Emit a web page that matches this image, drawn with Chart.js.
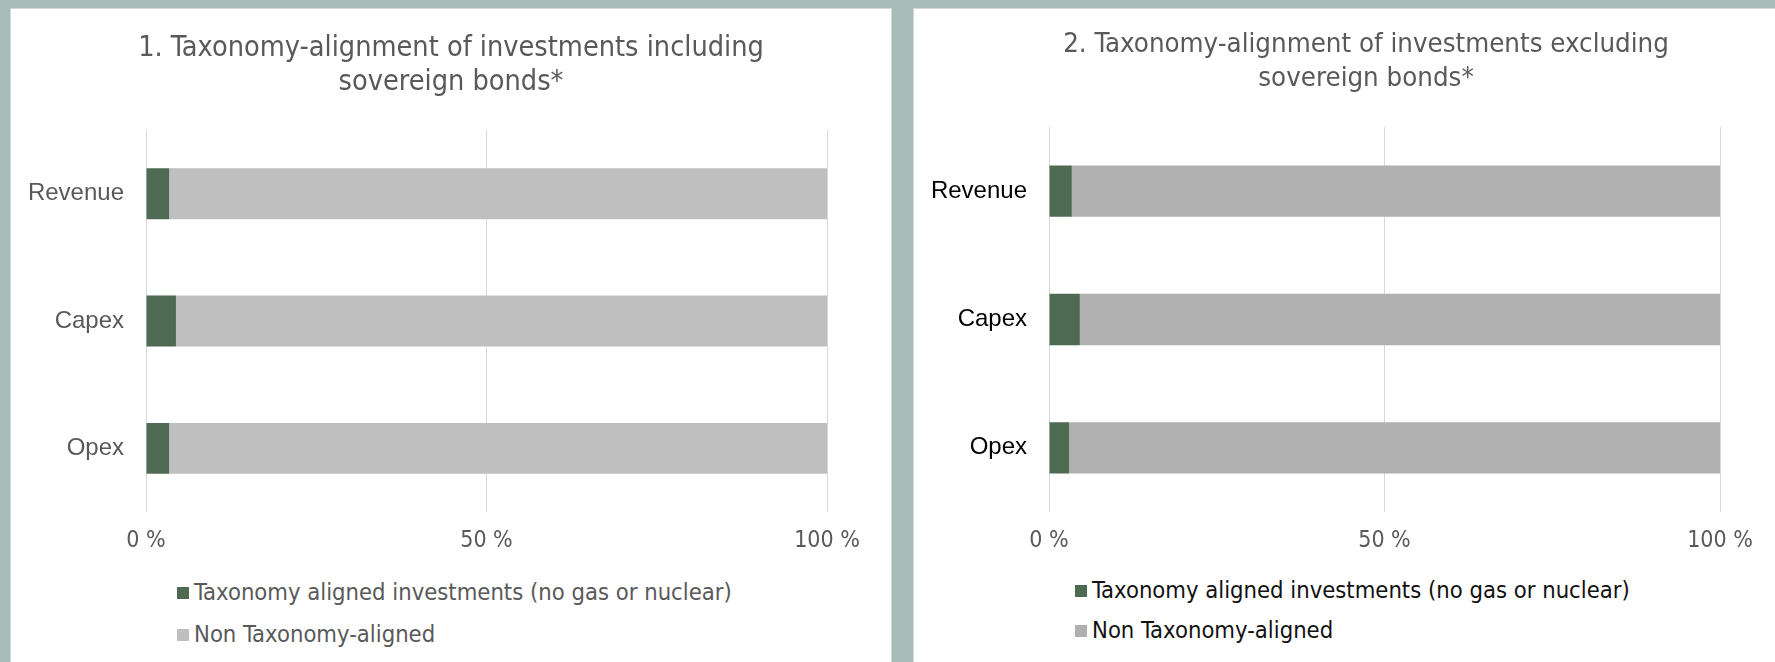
<!DOCTYPE html>
<html lang="en">
<head>
  <meta charset="UTF-8">
  <title>Taxonomy-alignment of investments</title>
  <script src="https://cdn.jsdelivr.net/npm/chart.js"></script>
  <style>
    html, body { margin: 0; padding: 0; }
    body {
      width: 1775px; height: 662px; overflow: hidden;
      background: #a7bcb9; position: relative;
    }
    .panel {
      position: absolute; top: 8px; height: 700px;
      background: #fff; border: 1px solid #d6d6d6; box-sizing: border-box;
    }
    #panel1 { left: 10px; width: 882px; }
    #panel2 { left: 913px; width: 906px; }
    .chart-box { position: absolute; left: 0; top: 0; width: 100%; height: 560px; }
    .legend { position: absolute; font-family: "Liberation Sans Narrow", "Arial Narrow", "DejaVu Sans Condensed", sans-serif; font-size: 23.6px; }
    .legend div { position: absolute; white-space: nowrap; line-height: 24px; }
    .legend span.box { display: inline-block; width: 12px; height: 12px; margin-right: 5px; vertical-align: 1px; }
  </style>
</head>
<body>
  <div class="panel" id="panel1">
    <div class="chart-box"><canvas id="chart1"></canvas></div>
    <div class="legend" id="legend1" style="left:166px; top:571px; color:#595959;"></div>
  </div>
  <div class="panel" id="panel2">
    <div class="chart-box"><canvas id="chart2"></canvas></div>
    <div class="legend" id="legend2" style="left:161px; top:569px; color:#111;"></div>
  </div>

  <script>
    // data
    const categories = ['Revenue', 'Capex', 'Opex'];
    const alignedInclSov = [3.4, 4.4, 3.4];
    const nonAlignedInclSov = [96.6, 95.6, 96.6];
    const alignedExclSov = [3.4, 4.6, 3.0];
    const nonAlignedExclSov = [96.6, 95.4, 97.0];
    const xTicks = [0, 50, 100];

    const seriesNames = ['Taxonomy aligned investments (no gas or nuclear)', 'Non Taxonomy-aligned'];
    const green = '#4f6a52';

    const narrow = '"Liberation Sans Narrow", "Arial Narrow", "DejaVu Sans Condensed", sans-serif';
    const regular = '"Liberation Sans", Arial, sans-serif';

    function makeChart(id, title, aligned, nonAligned, grey, cfg) {
      const ctx = document.getElementById(id).getContext('2d');
      return new Chart(ctx, {
        type: 'bar',
        data: {
          labels: categories,
          datasets: [
            { label: seriesNames[0], data: aligned, backgroundColor: green, barPercentage: 0.4, categoryPercentage: 1 },
            { label: seriesNames[1], data: nonAligned, backgroundColor: grey, barPercentage: 0.4, categoryPercentage: 1 }
          ]
        },
        options: {
          indexAxis: 'y',
          responsive: true,
          maintainAspectRatio: false,
          animation: false,
          layout: { padding: 0 },
          plugins: {
            legend: { display: false },
            tooltip: { enabled: false },
            title: {
              display: true,
              text: title,
              color: '#595959',
              font: { family: narrow, size: cfg.titleSize, weight: 'normal', lineHeight: cfg.titleLine },
              padding: { top: cfg.titleTop, bottom: cfg.titleBottom }
            }
          },
          scales: {
            x: {
              stacked: true,
              min: 0,
              max: 100,
              afterBuildTicks: (scale) => { scale.ticks = xTicks.map(v => ({ value: v })); },
              afterFit: (scale) => { scale.height = 57; },
              grid: { color: '#d9d9d9', lineWidth: 1, drawTicks: false },
              border: { display: false },
              ticks: {
                padding: 15,
                color: '#595959',
                font: { family: narrow, size: 23 },
                callback: (v) => v + ' %'
              }
            },
            y: {
              stacked: true,
              afterFit: (scale) => { scale.width = 135; },
              grid: { display: false, drawTicks: false },
              border: { display: false },
              ticks: {
                padding: 22,
                color: cfg.yColor,
                font: { family: regular, size: 24 }
              }
            },
            // empty right-hand axis: only reserves the white margin so the title stays centred on the panel
            yGap: {
              type: 'category',
              position: 'right',
              afterFit: (scale) => { scale.width = cfg.gapRight; },
              grid: { display: false, drawTicks: false },
              border: { display: false },
              ticks: { display: false }
            }
          }
        }
      });
    }

    function buildLegend(el, chart, rowGap) {
      chart.data.datasets.forEach((ds, i) => {
        const row = document.createElement('div');
        row.style.top = (i * rowGap) + 'px';
        row.innerHTML = '<span class="box" style="background:' + ds.backgroundColor + '"></span>' + ds.label;
        el.appendChild(row);
      });
    }

    const c1 = makeChart('chart1',
      ['1. Taxonomy-alignment of investments including', 'sovereign bonds*'],
      alignedInclSov, nonAlignedInclSov, '#bfbfbf',
      { gapRight: 64, titleSize: 28.6, titleLine: 1.19, titleTop: 23, titleBottom: 30, yColor: '#595959' });

    const c2 = makeChart('chart2',
      ['2. Taxonomy-alignment of investments excluding', 'sovereign bonds*'],
      alignedExclSov, nonAlignedExclSov, '#b0b0b0',
      { gapRight: 98, titleSize: 27.4, titleLine: 1.24, titleTop: 19, titleBottom: 31, yColor: '#000000' });

    buildLegend(document.getElementById('legend1'), c1, 42);
    buildLegend(document.getElementById('legend2'), c2, 40);
  </script>
</body>
</html>
